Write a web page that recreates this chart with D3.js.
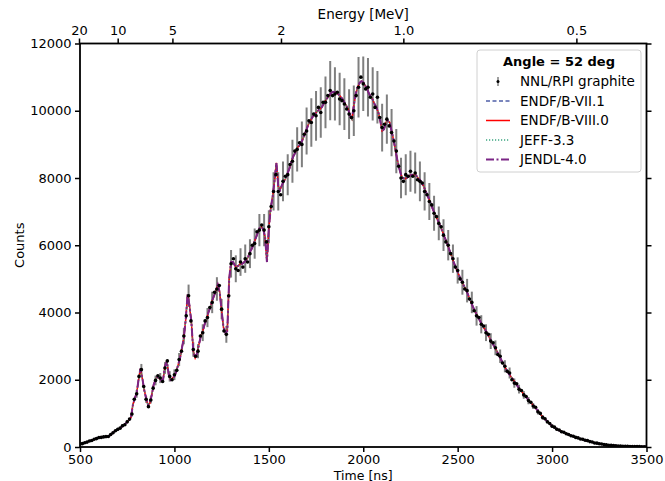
<!DOCTYPE html>
<html>
<head>
<meta charset="utf-8">
<script src="https://cdn.jsdelivr.net/npm/d3@7"></script>
<style>
  body { margin: 0; background: #fff; }
  svg { font-family: "DejaVu Sans", sans-serif; }
</style>
</head>
<body>
<svg id="chart" width="665" height="481"></svg>
<script>
/* global d3 */

// model curves, one value every 10 ns starting at 500 ns
var modelStart = 500, modelStep = 10;
var endf80 = [
  80, 100, 115, 130, 155, 175, 195, 215, 240, 260,
  275, 285, 295, 300, 305, 315, 350, 400, 450, 490,
  520, 560, 600, 640, 690, 740, 800, 880, 1250, 1450,
  1600, 2000, 2330, 2050, 1700, 1450, 1250, 1300, 1550, 1850,
  2000, 2080, 2050, 1980, 2000, 2400, 2550, 2150, 2000, 2050,
  2100, 2250, 2450, 2650, 2950, 3250, 3800, 4550, 4200, 3700,
  2850, 2650, 2780, 3050, 3300, 3450, 3650, 3800, 4000, 4150,
  4350, 4500, 4650, 4820, 4600, 4050, 3550, 3400, 3450, 5000,
  5500, 5500, 5400, 5350, 5400, 5450, 5450, 5500, 5550, 5650,
  5800, 5900, 6050, 6200, 6350, 6500, 6550, 6480, 6250, 5500,
  6500, 7100, 7450, 7900, 8450, 7750, 7650, 7800, 7900, 8000,
  8150, 8300, 8500, 8650, 8750, 8900, 8950, 9050, 9150, 9300,
  9450, 9600, 9700, 9800, 9880, 9950, 10000, 10050, 10100, 10200,
  10300, 10380, 10450, 10530, 10560, 10550, 10520, 10480, 10420, 10350,
  10250, 10150, 10050, 9850, 9750, 10150, 10500, 10700, 10820, 10880,
  10850, 10750, 10650, 10520, 10420, 10330, 10200, 10100, 9950, 9700,
  9400, 9450, 9650, 9700, 9650, 9400, 9150, 8850, 8550, 8300,
  8100, 8000, 7980, 8000, 8050, 8080, 8100, 8100, 8080, 8000,
  7950, 7850, 7750, 7620, 7480, 7350, 7200, 7050, 6920, 6800,
  6680, 6540, 6400, 6250, 6120, 5960, 5800, 5640, 5480, 5340,
  5200, 5070, 4950, 4830, 4720, 4600, 4460, 4320, 4180, 4060,
  3950, 3840, 3730, 3630, 3530, 3450, 3340, 3230, 3120, 3030,
  2930, 2820, 2710, 2600, 2490, 2380, 2280, 2190, 2110, 2030,
  1950, 1870, 1790, 1710, 1640, 1570, 1500, 1430, 1360, 1300,
  1240, 1180, 1110, 1040, 960, 900, 840, 790, 730, 680,
  630, 590, 550, 520, 490, 460, 440, 410, 390, 360,
  340, 320, 300, 280, 260, 245, 230, 210, 195, 180,
  165, 150, 135, 120, 110, 100, 90, 80, 70, 60,
  55, 50, 45, 40, 36, 32, 28, 25, 22, 20,
  18, 16, 14, 13, 12, 11, 10, 9, 8, 8,
  7
];
// the four evaluations lie on top of each other at this scale
var endf71 = endf80;
var jeff33 = endf80;
var jendl40 = endf80;

// measured counts, one point every 12.5 ns starting at 500 ns
var dataStart = 500, dataStep = 12.5;
var counts = [
  85, 100, 128, 145, 180, 195, 232, 250,
  280, 285, 300, 310, 312, 370, 425, 485,
  525, 560, 630, 660, 750, 830, 980, 1420,
  1580, 2100, 2300, 1800, 1420, 1200, 1400, 1750,
  1980, 2120, 2050, 1950, 2350, 2560, 2100, 2000,
  2150, 2280, 2600, 2850, 3300, 3900, 4500, 3750,
  2900, 2700, 2850, 3300, 3400, 3750, 3850, 4150,
  4300, 4600, 4700, 4800, 4100, 3450, 3350, 4500,
  5450, 5600, 5300, 5250, 5500, 5350, 5600, 5500,
  5750, 6000, 6050, 6400, 6450, 6600, 6450, 6100,
  6550, 7150, 7600, 8100, 7600, 7500, 7900, 8050,
  8100, 8400, 8500, 8800, 8850, 9050, 9000, 9300,
  9400, 9700, 9650, 9900, 9850, 10100, 9950, 10250,
  10250, 10450, 10600, 10450, 10500, 10550, 10350, 10300,
  10200, 10050, 9900, 9800, 10000, 10450, 10700, 11000,
  10800, 10650, 10700, 10400, 10500, 10100, 10400, 9800,
  9500, 9600, 9750, 9550, 9350, 9100, 8800, 8350,
  8000, 7900, 8100, 8050, 8200, 8050, 8150, 7950,
  7900, 7850, 7600, 7500, 7300, 7200, 6950, 6850,
  6650, 6550, 6300, 6100, 6000, 5750, 5600, 5350,
  5250, 5000, 4900, 4700, 4650, 4400, 4300, 4050,
  3900, 3850, 3650, 3600, 3400, 3350, 3150, 3100,
  2950, 2750, 2700, 2500, 2400, 2250, 2200, 2000,
  1900, 1880, 1720, 1680, 1550, 1500, 1380, 1330,
  1220, 1180, 1050, 1000, 880, 840, 750, 700,
  620, 590, 530, 505, 455, 440, 395, 370,
  335, 320, 285, 270, 240, 230, 200, 190,
  160, 150, 120, 115, 95, 88, 72, 62,
  52, 50, 40, 38, 30, 29, 24, 22,
  18, 15, 14, 12, 11, 10, 9, 8,
  7
];
// error bar half-lengths, drawn on every second point (25 ns)
var errors = [
  6, 10, 13, 17,
  20, 22, 23, 31,
  38, 46, 55, 72,
  115, 170, 105, 105,
  145, 150, 175, 155,
  160, 195, 245, 330,
  215, 210, 250, 285,
  320, 350, 300, 250,
  410, 400, 410, 420,
  430, 450, 480, 480,
  490, 570, 570, 590,
  610, 640, 660, 680,
  700, 720, 740, 750,
  770, 880, 790, 780,
  770, 740, 750, 900,
  810, 870, 790, 780,
  710, 730, 700, 660,
  600, 610, 610, 610,
  590, 570, 550, 520,
  500, 470, 450, 420,
  390, 370, 350, 320,
  290, 270, 250, 235,
  220, 200, 180, 165,
  140, 130, 115, 105,
  90, 80, 66, 56,
  46, 40, 34, 30,
  25, 21, 18, 15,
  12, 9, 7, 5,
  4, 3, 2, 2,
  1, 1, 1, 1,
  1
];

var timeTicks = [500, 1000, 1500, 2000, 2500, 3000, 3500];
var countTicks = [0, 2000, 4000, 6000, 8000, 10000, 12000];
var energyTicks = [20, 10, 5, 2, 1.0, 0.5];
var flightPath = 30.6; // m, converts time of flight to energy

var series = [
  { name: 'ENDF/B-VII.1', values: endf71, color: '#4f5fa8', width: 1.4, dash: '4,2.5' },
  { name: 'ENDF/B-VIII.0', values: endf80, color: '#ff0000', width: 1.5, dash: null },
  { name: 'JEFF-3.3', values: jeff33, color: '#3aa580', width: 1.4, dash: '1.2,1.8' },
  { name: 'JENDL-4.0', values: jendl40, color: '#7b2585', width: 2, dash: '8,2.5,2,2.5' }
];

var svg = d3.select('svg#chart');
var margin = { left: 80, right: 18.5, top: 43.5, bottom: 34 };
var W = 665, H = 481;

var x = d3.scaleLinear().domain([500, 3500]).range([margin.left, W - margin.right]);
var y = d3.scaleLinear().domain([0, 12000]).range([H - margin.bottom, margin.top]);

function energyFromTof(ns) { return Math.pow(72.298 * flightPath / ns, 2); }
var e = d3.scalePow().exponent(-0.5)
  .domain([energyFromTof(500), energyFromTof(3500)])
  .range([x(500), x(3500)]);

svg.append('defs').append('clipPath').attr('id', 'plotclip')
  .append('rect')
    .attr('x', margin.left).attr('y', margin.top)
    .attr('width', W - margin.left - margin.right)
    .attr('height', H - margin.top - margin.bottom);

var plot = svg.append('g').attr('clip-path', 'url(#plotclip)');

var pts = counts.map(function (c, i) {
  return { t: dataStart + i * dataStep, c: c, err: i % 2 === 0 ? errors[i / 2] : null };
});

// error bars
plot.selectAll('.err').data(pts.filter(function (d) { return d.err !== null; }))
  .enter().append('line').classed('err', true)
    .attr('x1', function (d) { return x(d.t); })
    .attr('x2', function (d) { return x(d.t); })
    .attr('y1', function (d) { return y(d.c - d.err); })
    .attr('y2', function (d) { return y(d.c + d.err); })
    .attr('stroke', '#7f7f7f')
    .attr('stroke-width', 2)
;

// evaluated curves
var line = d3.line()
  .x(function (d, i) { return x(modelStart + i * modelStep); })
  .y(function (d) { return y(d); });

series.forEach(function (s) {
  plot.append('path')
    .attr('d', line(s.values))
    .attr('fill', 'none')
    .attr('stroke', s.color)
    .attr('stroke-width', s.width)
    .attr('stroke-dasharray', s.dash)
  ;
});

// data points
plot.selectAll('.pt').data(pts)
  .enter().append('circle').classed('pt', true)
    .attr('cx', function (d) { return x(d.t); })
    .attr('cy', function (d) { return y(d.c); })
    .attr('r', 1.8)
    .attr('fill', '#000')
;

// axes
function styleAxis(g) {
  g.select('.domain').remove();
  g.selectAll('.tick line').attr('stroke', '#000').attr('stroke-width', 1.5);
  g.selectAll('.tick text').attr('font-size', 13).attr('fill', '#000')
    .attr('font-family', '"DejaVu Sans", sans-serif');
}

svg.append('g')
  .attr('transform', 'translate(0,' + (H - margin.bottom) + ')')
  .call(d3.axisBottom(x).tickValues(timeTicks).tickSize(5).tickPadding(3)
    .tickFormat(d3.format('d')))
  .call(styleAxis);

svg.append('g')
  .attr('transform', 'translate(' + margin.left + ',0)')
  .call(d3.axisLeft(y).tickValues(countTicks).tickSize(5).tickPadding(3.5)
    .tickFormat(d3.format('d')))
  .call(styleAxis);

svg.append('g')
  .attr('transform', 'translate(' + (W - margin.right) + ',0)')
  .call(d3.axisRight(y).tickValues(countTicks).tickSize(5).tickFormat(''))
  .call(styleAxis);

svg.append('g')
  .attr('transform', 'translate(0,' + margin.top + ')')
  .call(d3.axisTop(e).tickValues(energyTicks).tickSize(5).tickPadding(3.5)
    .tickFormat(function (d) { return d >= 2 ? String(d) : d.toFixed(1); }))
  .call(styleAxis);

svg.append('rect')
  .attr('x', margin.left).attr('y', margin.top)
  .attr('width', W - margin.left - margin.right)
  .attr('height', H - margin.top - margin.bottom)
  .attr('fill', 'none').attr('stroke', '#000').attr('stroke-width', 1.8);

// axis labels
var cx = (x(500) + x(3500)) / 2;
svg.append('text').attr('x', cx).attr('y', 480).attr('text-anchor', 'middle')
  .attr('font-size', 12.5).text('Time [ns]');
svg.append('text').attr('x', cx).attr('y', 18.5).attr('text-anchor', 'middle')
  .attr('font-size', 13.5).text('Energy [MeV]');
svg.append('text')
  .attr('transform', 'translate(24,' + ((y(0) + y(12000)) / 2) + ') rotate(-90)')
  .attr('text-anchor', 'middle').attr('font-size', 13).text('Counts');

// legend
var legend = svg.append('g').attr('transform', 'translate(477,50)');
legend.append('rect')
  .attr('width', 164).attr('height', 122).attr('rx', 3)
  .attr('fill', '#fff').attr('fill-opacity', 0.8)
  .attr('stroke', '#d0d0d0').attr('stroke-width', 1);
legend.append('text').attr('x', 82).attr('y', 16).attr('text-anchor', 'middle')
  .attr('font-size', 13).attr('font-weight', 'bold').text('Angle = 52 deg');

var rowY = function (i) { return 31.5 + i * 19.5; };
var g0 = legend.append('g').attr('transform', 'translate(0,' + rowY(0) + ')');
g0.append('line').attr('x1', 21).attr('x2', 21).attr('y1', -4.5).attr('y2', 4.5)
  .attr('stroke', '#7f7f7f').attr('stroke-width', 1.5);
g0.append('circle').attr('cx', 21).attr('cy', 0).attr('r', 1.5).attr('fill', '#000');
g0.append('text').attr('x', 43).attr('y', 4.5).attr('font-size', 13.5).text('NNL/RPI graphite');

series.forEach(function (s, i) {
  var g = legend.append('g').attr('transform', 'translate(0,' + rowY(i + 1) + ')');
  g.append('line').attr('x1', 9).attr('x2', 33).attr('y1', 0).attr('y2', 0)
    .attr('stroke', s.color).attr('stroke-width', s.width)
    .attr('stroke-dasharray', s.dash);
  g.append('text').attr('x', 43).attr('y', 4.5).attr('font-size', 13.5).text(s.name);
});
</script>
</body>
</html>
